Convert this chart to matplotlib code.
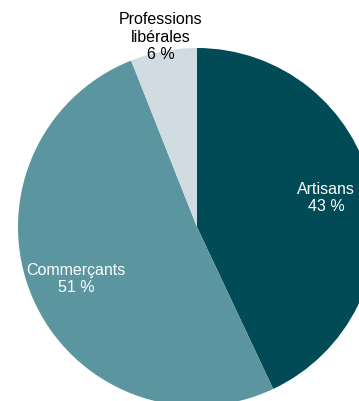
import numpy as np
import matplotlib
matplotlib.use("Agg")
import matplotlib.pyplot as plt

# part of each category (%)
categories = ["Artisans", "Commerçants", "Professions\nlibérales"]
shares = [43, 51, 6]
slice_colors = ["#004b55", "#5b96a0", "#d0dce2"]
text_colors = ["white", "white", "black"]
label_dist = [0.74, 0.735, 1.08]

plt.rcParams["font.family"] = ["Liberation Sans", "DejaVu Sans"]

W, H = 359, 401
fig = plt.figure(figsize=(W / 100, H / 100), dpi=100)
ax = fig.add_axes([0, 0, 1, 1])

# data units = pixels, origin bottom-left
cx, cy, r = 197, H - 227, 179
wedges, _ = ax.pie(shares, colors=slice_colors, startangle=90, counterclock=False,
                   center=(cx, cy), radius=r, frame=True,
                   wedgeprops=dict(linewidth=0))

for w, name, val, tc, d in zip(wedges, categories, shares, text_colors, label_dist):
    mid = np.deg2rad((w.theta1 + w.theta2) / 2)
    x = cx + r * d * np.cos(mid)
    y = cy + r * d * np.sin(mid)
    ax.text(x, y, "%s\n%d %%" % (name, val), ha="center", va="center",
            color=tc, fontsize=11.5, linespacing=1.2)

ax.set_xlim(0, W)
ax.set_ylim(0, H)
ax.set_aspect("equal")
ax.axis("off")

fig.savefig("out.png", dpi=100)
